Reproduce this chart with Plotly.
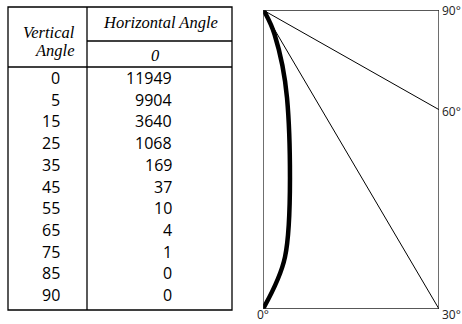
"""
Candela table and polar intensity curve for one horizontal angle.
"""

import numpy as np
import plotly.graph_objects as go

# Photometric data
vertical_angles = [0, 5, 15, 25, 35, 45, 55, 65, 75, 85, 90]
candela_h0 = [11949, 9904, 3640, 1068, 169, 37, 10, 4, 1, 0, 0]
horizontal_angles = ['0']
ray_angles = [30, 60]
corner_labels = ['0°', '30°', '60°', '90°']

W, H = 462, 324
NUM_FONT = 'Open Sans'
HEAD_FONT = 'Liberation Serif'

fig = go.Figure()

# ---------- right: polar curve in a box (lamp at the top-left corner) ----------
i_max = max(candela_h0)
box_w = i_max * np.tan(np.radians(30))  # 30 deg ray meets the bottom-right corner
theta = np.radians(vertical_angles)
cx = np.array(candela_h0) * np.sin(theta)
cy = -np.array(candela_h0) * np.cos(theta)

fig.add_trace(go.Scatter(
    x=cx, y=cy, mode='lines',
    line=dict(color='black', width=4.5, shape='spline', smoothing=0.9),
    hoverinfo='skip', showlegend=False,
))

# rays from the lamp to the box edge
for a in ray_angles:
    t = np.radians(a)
    # intersect with the bottom or the right side
    if np.tan(t) * i_max <= box_w + 1e-6:
        ex, ey = i_max * np.tan(t), -i_max
    else:
        ex, ey = box_w, -box_w / np.tan(t)
    fig.add_trace(go.Scatter(
        x=[0, ex], y=[0, ey], mode='lines',
        line=dict(color='black', width=1),
        hoverinfo='skip', showlegend=False,
    ))

fig.add_shape(type='rect', xref='x', yref='y', x0=0, x1=box_w, y0=-i_max, y1=0,
              line=dict(color='#222222', width=1.3))

lab = dict(showarrow=False, borderpad=0, font=dict(family=NUM_FONT, size=12, color='#222'))
# 0 deg under the lamp's nadir, 30 deg at the bottom-right corner
fig.add_annotation(x=0, xref='x', y=0, yref='paper', text=corner_labels[0],
                   xanchor='center', yanchor='bottom', **lab)
fig.add_annotation(x=1, xref='paper', y=0, yref='paper', text=corner_labels[1],
                   xanchor='right', yanchor='bottom', **lab)
# 60 deg where its ray meets the right side, 90 deg at the top
fig.add_annotation(x=1, xref='paper', y=-box_w / np.tan(np.radians(60)), yref='y',
                   text=corner_labels[2], xanchor='right', yanchor='middle', yshift=-2, **lab)
fig.add_annotation(x=1, xref='paper', y=0, yref='y', text=corner_labels[3],
                   xanchor='right', yanchor='middle', **lab)

# ---------- left: the table, laid out on a pixel axis ----------
t_left, t_right, t_top, t_bottom = 8, 232, 7, 310
col_div = 87
sub_line = 41
head_line = 67
row0, row_h = 78, 21.7

tab = dict(type='line', xref='x2', yref='y2', line=dict(color='black', width=1.3))
fig.add_shape(type='rect', xref='x2', yref='y2', x0=t_left, x1=t_right,
              y0=t_top, y1=t_bottom, line=dict(color='black', width=1.3))
fig.add_shape(x0=col_div, x1=col_div, y0=t_top, y1=t_bottom, **tab)
fig.add_shape(x0=col_div, x1=t_right, y0=sub_line, y1=sub_line, **tab)
fig.add_shape(x0=t_left, x1=t_right, y0=head_line, y1=head_line, **tab)

head = dict(family=HEAD_FONT, size=16.5, color='black')
fig.add_annotation(x=76, y=32, text='<i>Vertical</i>', xanchor='right')
fig.add_annotation(x=76, y=50, text='<i>Angle</i>', xanchor='right')
fig.add_annotation(x=160, y=22, text='<i>Horizontal Angle</i>', xanchor='center')
fig.add_annotation(x=155, y=55, text='<i>%s</i>' % horizontal_angles[0], xanchor='center')
for a in fig.layout.annotations[-4:]:
    a.update(xref='x2', yref='y2', showarrow=False, yanchor='middle', borderpad=0, font=head)

for i, (va, cd) in enumerate(zip(vertical_angles, candela_h0)):
    y = row0 + row_h * i
    fig.add_annotation(x=62, y=y, xref='x2', yref='y2', text=str(va), showarrow=False,
                       xanchor='right', yanchor='middle',
                       font=dict(family=NUM_FONT, size=16, color='black'))
    fig.add_annotation(x=174, y=y, xref='x2', yref='y2', text=str(cd), showarrow=False,
                       xanchor='right', yanchor='middle',
                       font=dict(family=NUM_FONT, size=16, color='black'))

hidden = dict(visible=False, showgrid=False, zeroline=False, fixedrange=True)
fig.update_layout(
    width=W, height=H,
    margin=dict(l=0, r=0, t=0, b=0),
    paper_bgcolor='white', plot_bgcolor='rgba(0,0,0,0)',
    xaxis=dict(domain=[263 / W, 439 / W], range=[0, box_w], **hidden),
    yaxis=dict(domain=[(H - 309) / H, (H - 10) / H], range=[-i_max, 0], **hidden),
    xaxis2=dict(domain=[0, 1], range=[0, W], anchor='y2', **hidden),
    yaxis2=dict(domain=[0, 1], range=[H, 0], anchor='x2', **hidden),
)

# the page's default body margin would push the figure 8px off the window
fig.write_html('out.html', config={'displayModeBar': False},
               post_script="document.body.style.margin='0px';")
